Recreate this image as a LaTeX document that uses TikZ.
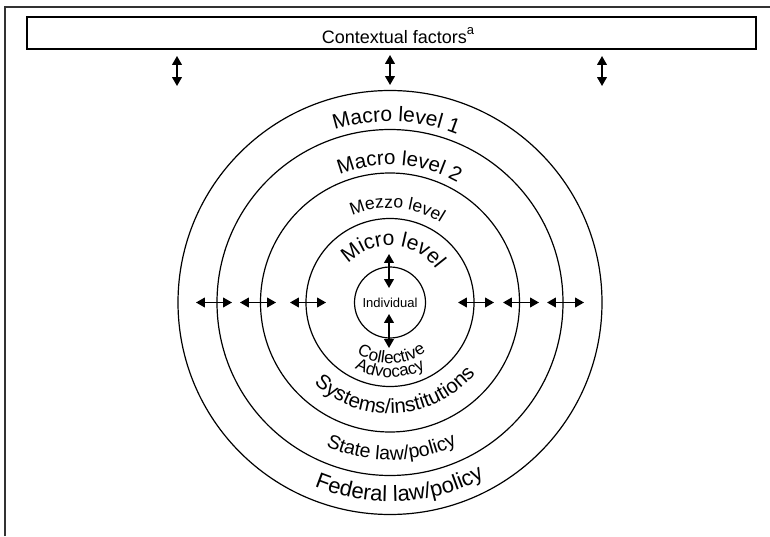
\documentclass[tikz,border=0pt]{standalone}
\usepackage{fontspec}
\setmainfont{Liberation Sans}
\usetikzlibrary{arrows.meta,decorations.text,calc}
\newcommand\fsz[1]{\fontsize{#1}{#1}\selectfont}
\tikzset{
  ring/.style={draw, circle, line width=0.6pt, inner sep=0pt},
  dbl/.style={{Triangle[width=4.8pt,length=4.4pt]}-{Triangle[width=4.8pt,length=4.4pt]}, line width=0.75pt},
  arclabel/.style={decorate, decoration={text along path, text align=center, text={#1}}},
  framebox/.style={draw, line width=0.75pt, inner sep=0pt}
}
\begin{document}
\begin{tikzpicture}[x=0.5pt,y=0.5pt]
\useasboundingbox (0,0) rectangle (770,536);
% outer frame (left and top sides visible)
\coordinate (fA) at (5,0);
\coordinate (fB) at (5,529);
\coordinate (fC) at (770,529);
\draw[line width=1pt, black!80] (fA) -- (fB) -- (fC);
% contextual factors box
\node[framebox, minimum width=364.5pt, minimum height=16pt] (ctx) at (391.5,503) {};
\node[anchor=base, inner sep=0pt] (ctxt) at (398,492.7) {\fsz{9}Contextual factors\raisebox{0.9ex}{\fsz{6.5}a}};
% top arrows
\coordinate (t1a) at (177,480); \coordinate (t1b) at (177,450);
\coordinate (t2a) at (390,481); \coordinate (t2b) at (390,451);
\coordinate (t3a) at (602,480); \coordinate (t3b) at (602,450);
\draw[dbl] (t1a) -- (t1b);
\draw[dbl] (t2a) -- (t2b);
\draw[dbl] (t3a) -- (t3b);
% circles
\coordinate (O) at (390,233.5);
\node[ring, minimum size=212pt] (c5) at (O) {};
\node[ring, minimum size=173pt] (c4) at (O) {};
\node[ring, minimum size=129.5pt] (c3) at (O) {};
\node[ring, minimum size=84pt] (c2) at (O) {};
\node[ring, minimum size=35.5pt] (c1) at (O) {\fsz{6.5}Individual};
% horizontal arrows
\coordinate (h1a) at (196,233.5); \coordinate (h1b) at (232,233.5);
\coordinate (h2a) at (240,233.5); \coordinate (h2b) at (276,233.5);
\coordinate (h3a) at (290,233.5); \coordinate (h3b) at (326,233.5);
\coordinate (h4a) at (458,233.5); \coordinate (h4b) at (494,233.5);
\coordinate (h5a) at (503,233.5); \coordinate (h5b) at (539,233.5);
\coordinate (h6a) at (547,233.5); \coordinate (h6b) at (584,233.5);
\draw[dbl] (h1a) -- (h1b);
\draw[dbl] (h2a) -- (h2b);
\draw[dbl] (h3a) -- (h3b);
\draw[dbl] (h4a) -- (h4b);
\draw[dbl] (h5a) -- (h5b);
\draw[dbl] (h6a) -- (h6b);
% central vertical arrows
\coordinate (v1a) at (389,282); \coordinate (v1b) at (389,248);
\coordinate (v2a) at (389,222); \coordinate (v2b) at (389,188);
\draw[dbl] (v1a) -- (v1b);
\draw[dbl] (v2a) -- (v2b);
% curved labels, top
\path[arclabel={|\fsz{10.5}|Macro level 1}] ($(O)+(158:90.5pt)$) arc[start angle=158, end angle=18, radius=90.5pt];
\path[arclabel={|\fsz{10.25}|Macro level 2}] ($(O)+(156:68.75pt)$) arc[start angle=156, end angle=16, radius=68.75pt];
\path[arclabel={|\fsz{8.75}|Mezzo level}] ($(O)+(155.5:47.25pt)$) arc[start angle=155.5, end angle=15.5, radius=47.25pt];
\path[arclabel={|\fsz{10.5}|Micro level}] ($(O)+(156.5:28.5pt)$) arc[start angle=156.5, end angle=16.5, radius=28.5pt];
% curved labels, bottom
\path[arclabel={|\fsz{8.5}|Collective}] ($(O)+(201.5:30.5pt)$) arc[start angle=201.5, end angle=341.5, radius=30.5pt];
\path[arclabel={|\fsz{8.5}|Advocacy}] ($(O)+(200:37.5pt)$) arc[start angle=200, end angle=340, radius=37.5pt];
\path[arclabel={|\fsz{10.25}|Systems/institutions}] ($(O)+(203.5:55.5pt)$) arc[start angle=203.5, end angle=343.5, radius=55.5pt];
\path[arclabel={|\fsz{9.75}|State law/policy}] ($(O)+(200.6:78.75pt)$) arc[start angle=200.6, end angle=340.6, radius=78.75pt];
\path[arclabel={|\fsz{11}|Federal law/policy}] ($(O)+(203:99.5pt)$) arc[start angle=203, end angle=343, radius=99.5pt];
\end{tikzpicture}
\end{document}
